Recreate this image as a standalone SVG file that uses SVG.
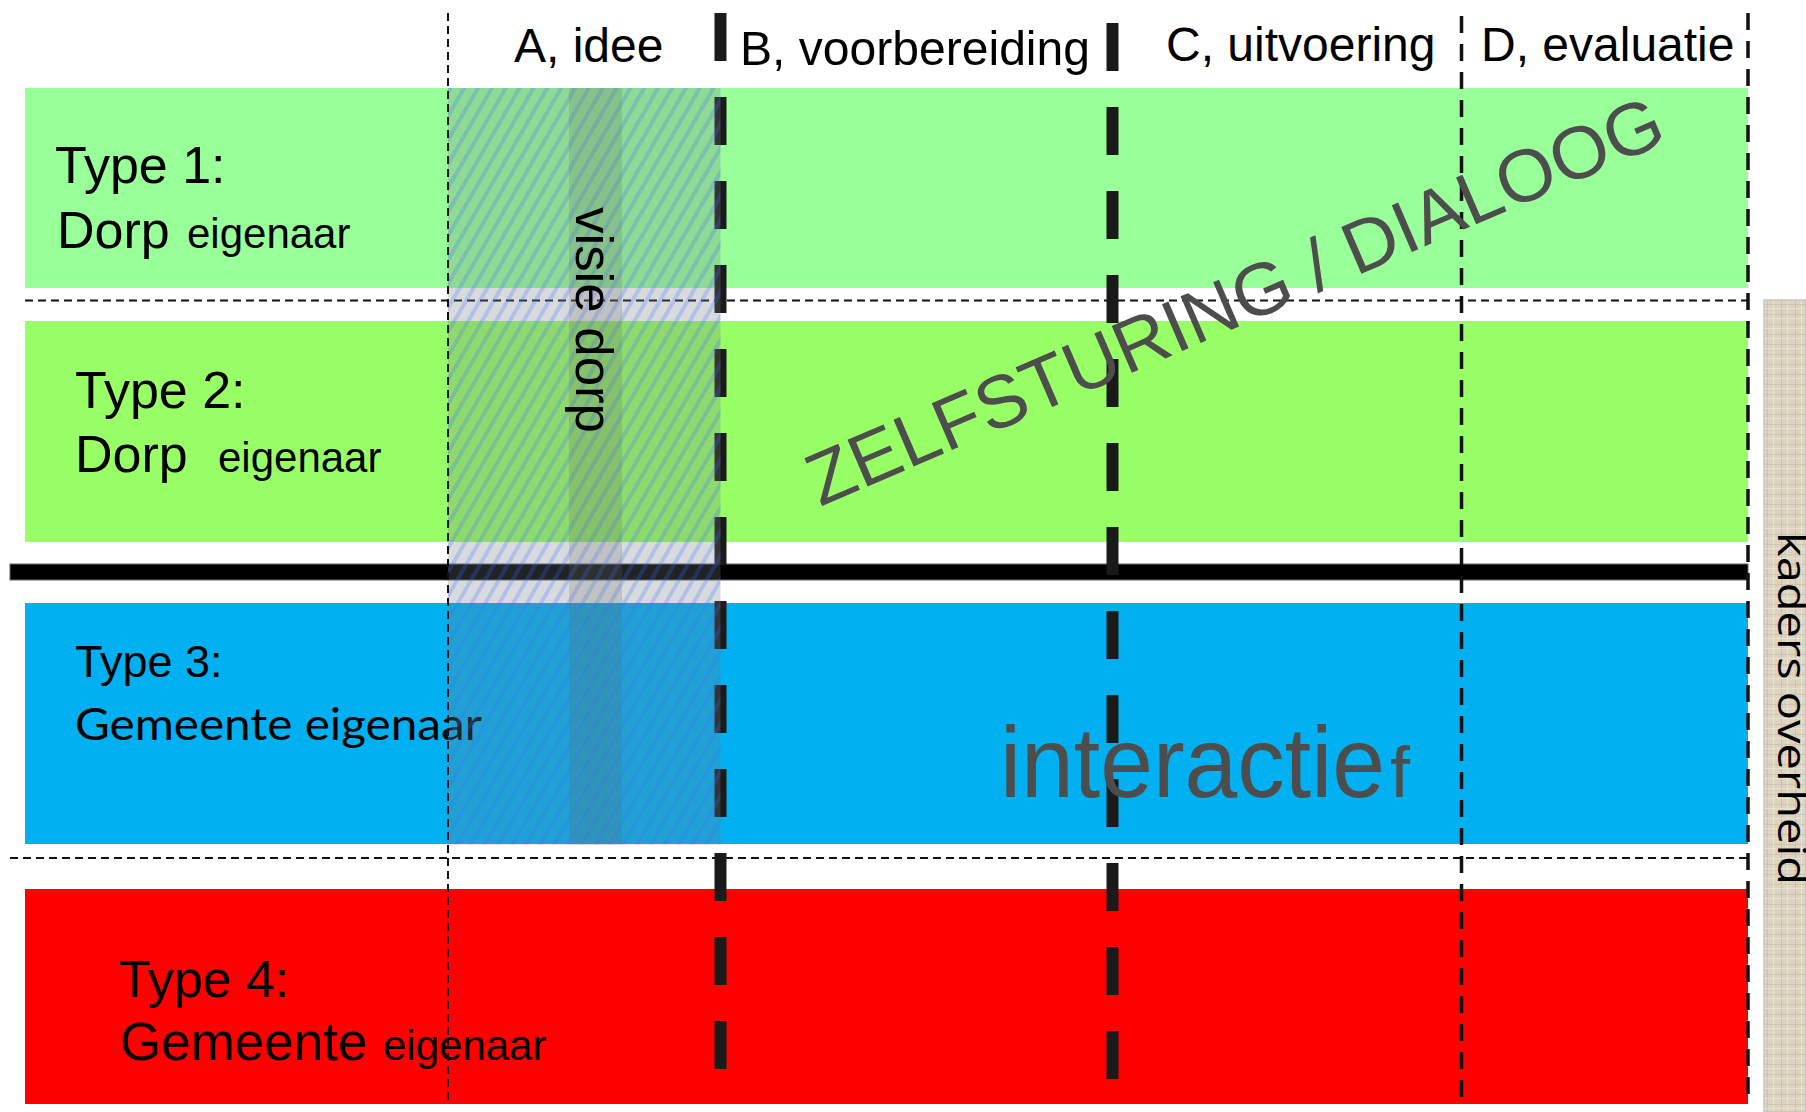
<svg xmlns="http://www.w3.org/2000/svg" width="1806" height="1112" viewBox="0 0 1806 1112">
<style>
.ar{font-family:"Liberation Sans",Arial,sans-serif;fill:#000}
.cal{font-family:Lato,"Open Sans",sans-serif;fill:#000}
.grey{font-family:"Liberation Sans",Arial,sans-serif;fill:#4d4d4d}
.thin{stroke:#111;stroke-width:2;stroke-dasharray:8 5;fill:none}
.med{stroke:#111;stroke-width:3.5;stroke-dasharray:17 11;fill:none}
.thick{stroke:#1a1a1a;stroke-width:12;stroke-dasharray:48 36;fill:none}
</style>
<defs>
<pattern id="hatch" width="12" height="12" patternUnits="userSpaceOnUse" patternTransform="rotate(30)">
<rect x="0" y="0" width="4" height="12" fill="rgb(48,112,255)" fill-opacity="0.24"/>
</pattern>
<pattern id="tex" width="14" height="10" patternUnits="userSpaceOnUse">
<rect width="14" height="10" fill="#dcd3c1"/>
<rect x="3" y="0" width="1" height="10" fill="#cbbfa8"/>
<rect x="9" y="0" width="1" height="10" fill="#ebe4d6"/>
<rect x="0" y="4" width="14" height="1" fill="#cfc4ae"/>
<rect x="0" y="8" width="14" height="1" fill="#e8e1d1"/>
</pattern>
</defs>
<rect width="1806" height="1112" fill="#fff"/>

<g id="row1">
<rect x="25" y="88" width="1723" height="200" fill="#99ff99"/>
<text class="ar" x="55" y="183" font-size="52">Type 1:</text>
<text class="ar" x="57" y="248" font-size="52">Dorp</text>
<text class="ar" x="187" y="248" font-size="42">eigenaar</text>
</g>
<g id="row2">
<rect x="25" y="321" width="1723" height="221" fill="#99ff66"/>
<text class="ar" x="75" y="408" font-size="52">Type 2:</text>
<text class="ar" x="75" y="472" font-size="52">Dorp</text>
<text class="ar" x="218" y="472" font-size="42">eigenaar</text>
</g>
<g id="row3">
<rect x="25" y="603" width="1723" height="241" fill="#00b0f0"/>
<text class="ar" x="75" y="677" font-size="45">Type 3:</text>
<text class="cal" x="75" y="740" font-size="44" textLength="407" lengthAdjust="spacingAndGlyphs">Gemeente eigenaar</text>
</g>
<g id="row4">
<rect x="25" y="889" width="1723" height="215" fill="#ff0000"/>
<text class="ar" x="119" y="997" font-size="52">Type 4:</text>
<text class="ar" x="120" y="1060" font-size="53">Gemeente</text>
<text class="ar" x="383" y="1060" font-size="42">eigenaar</text>
</g>

<g id="kaders">
<rect x="1764" y="300" width="42" height="812" fill="url(#tex)" stroke="#c6c6c6" stroke-width="1.5"/>
<text class="cal" transform="translate(1778,532) rotate(90)" font-size="40" textLength="353" lengthAdjust="spacingAndGlyphs" style="font-family:'Open Sans',Lato,sans-serif">kaders  overheid</text>
</g>

<g id="connectors">
<line class="thin" x1="25" y1="300.5" x2="1748" y2="300.5"/>
<line class="thin" x1="10" y1="858" x2="1748" y2="858"/>
<rect x="10" y="564" width="1738" height="16" fill="#000" stroke="#666" stroke-width="1"/>
<line class="thick" x1="720.5" y1="13" x2="720.5" y2="1070"/>
<line class="thick" x1="1112.5" y1="23" x2="1112.5" y2="1081"/>
</g>

<g id="visie">
<rect x="448" y="88" width="272.5" height="756.5" fill="#767a8a" fill-opacity="0.28"/>
<rect x="448" y="88" width="272.5" height="756.5" fill="url(#hatch)"/>
<rect x="569" y="88" width="53" height="756.5" fill="#646464" fill-opacity="0.2"/>
<text class="ar" transform="translate(576,207) rotate(90)" font-size="52" textLength="226" lengthAdjust="spacingAndGlyphs">visie dorp</text>
</g>

<g id="phaselines">
<line class="thin" x1="448" y1="13" x2="448" y2="1100"/>
<line class="med" x1="1461.5" y1="16" x2="1461.5" y2="1097"/>
<line class="med" x1="1748" y1="13" x2="1748" y2="1100"/>
</g>

<g id="headers">
<text class="ar" x="514" y="62" font-size="48">A, idee</text>
<text class="ar" x="740" y="65" font-size="48" textLength="350" lengthAdjust="spacingAndGlyphs">B, voorbereiding</text>
<text class="ar" x="1166" y="61" font-size="48">C, uitvoering</text>
<text class="ar" x="1481" y="61" font-size="48">D, evaluatie</text>
</g>

<g id="zelfsturing">
<text class="grey" transform="translate(820,507) rotate(-23.3)" font-size="74" textLength="925" lengthAdjust="spacingAndGlyphs">ZELFSTURING / DIALOOG</text>
</g>
<g id="interactief">
<text class="grey" x="1000" y="797" font-size="100"><tspan textLength="385" lengthAdjust="spacingAndGlyphs">interactie</tspan><tspan x="1390" font-size="72">f</tspan></text>
</g>
</svg>
